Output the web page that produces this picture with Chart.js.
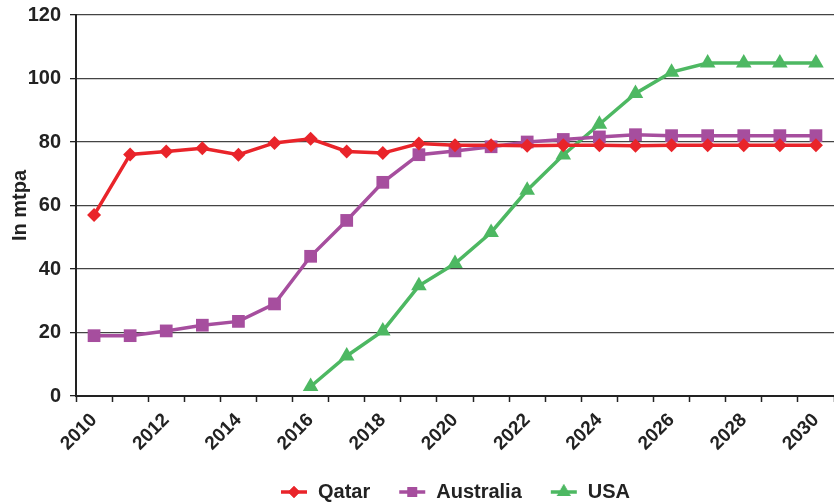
<!DOCTYPE html>
<html>
<head>
<meta charset="utf-8">
<script src="https://cdn.jsdelivr.net/npm/chart.js@4.4.0/dist/chart.umd.min.js"></script>
<style>
  html, body { margin: 0; padding: 0; background: #fff; }
  #wrap { width: 834px; height: 502px; overflow: hidden; }
</style>
</head>
<body>
<div id="wrap"><canvas id="chart" width="843" height="502"></canvas></div>
<script>
"use strict";

const years = ["2010", "2011", "2012", "2013", "2014", "2015", "2016", "2017", "2018", "2019", "2020",
  "2021", "2022", "2023", "2024", "2025", "2026", "2027", "2028", "2029", "2030"];

const qatar = [57, 76.1, 77, 78, 76, 79.7, 81, 77, 76.5, 79.5, 79, 79, 78.8, 79, 79, 78.8, 79, 79, 79, 79, 79];
const australia = [19, 19, 20.5, 22.3, 23.5, 29, 44, 55.3, 67.3, 76, 77.2, 78.5, 80, 80.8, 81.6, 82.3, 82, 82, 82, 82, 82];
const usa = [null, null, null, null, null, null, 3, 12.6, 20.5, 34.7, 41.7, 51.5, 64.8, 75.9, 85.6, 95.3, 102, 104.9, 104.9, 104.9, 104.9];

const yTicks = [0, 20, 40, 60, 80, 100, 120];

const red = "#e9242a";
const purple = "#a64e9e";
const green = "#4db862";
const font = "'Liberation Sans', Arial, sans-serif";

// little line + marker picture for the legend
function legendIcon(color, style, r) {
  const c = document.createElement("canvas");
  c.width = 28;
  c.height = 20;
  const ctx = c.getContext("2d");
  ctx.strokeStyle = color;
  ctx.fillStyle = color;
  ctx.lineWidth = 3.5;
  ctx.beginPath();
  ctx.moveTo(1, 10);
  ctx.lineTo(27, 10);
  ctx.stroke();
  Chart.helpers.drawPoint(ctx, { pointStyle: style, radius: r, borderWidth: 0 }, 14, 10);
  ctx.fill();
  return c;
}

const ctx = document.getElementById("chart");

const chart = new Chart(ctx, {
  type: "line",
  data: {
    labels: years,
    datasets: [
      {
        label: "Qatar",
        data: qatar,
        borderColor: red,
        backgroundColor: red,
        borderWidth: 3.5,
        pointStyle: "rectRot",
        pointRadius: 7,
        pointBorderWidth: 0,
      },
      {
        label: "Australia",
        data: australia,
        borderColor: purple,
        backgroundColor: purple,
        borderWidth: 3.5,
        pointStyle: "rect",
        pointRadius: 9,
        pointBorderWidth: 0,
      },
      {
        label: "USA",
        data: usa,
        borderColor: green,
        backgroundColor: green,
        borderWidth: 3.5,
        pointStyle: "triangle",
        pointRadius: 9,
        pointBorderWidth: 0,
      },
    ],
  },
  options: {
    responsive: false,
    animation: false,
    layout: { padding: { top: 15, right: 0, left: 8, bottom: -10 } },
    scales: {
      x: {
        offset: true,
        afterFit: function (axis) {
          axis.height = 58;
        },
        grid: {
          offset: true,
          drawOnChartArea: false,
          drawTicks: true,
          tickLength: 6,
          tickColor: "#222",
          tickWidth: 1.5,
        },
        border: { color: "#222", width: 2 },
        ticks: {
          autoSkip: false,
          maxRotation: 45,
          minRotation: 45,
          color: "#222",
          padding: 7,
          font: { family: font, size: 19, weight: "bold" },
          callback: function (value, index) {
            return index % 2 === 0 ? years[index] : "";
          },
        },
      },
      y: {
        min: 0,
        max: 120,
        afterBuildTicks: function (axis) {
          axis.ticks = yTicks.map(function (v) { return { value: v }; });
        },
        afterFit: function (axis) {
          axis.width = 68;
          axis.paddingTop = 0;
        },
        grid: {
          color: "#444",
          lineWidth: 1.3,
          tickLength: 6,
          tickColor: "#222",
        },
        border: { color: "#222", width: 2 },
        ticks: {
          color: "#222",
          padding: 9,
          font: { family: font, size: 20, weight: "bold" },
        },
        title: {
          display: true,
          text: "In mtpa",
          color: "#222",
          padding: { top: 0, bottom: 3 },
          font: { family: font, size: 20, weight: "bold" },
        },
      },
    },
    plugins: {
      tooltip: { enabled: false },
      legend: {
        position: "bottom",
        fullSize: false,
        labels: {
          color: "#222",
          usePointStyle: true,
          pointStyleWidth: 28,
          padding: 28,
          font: { family: font, size: 20, weight: "bold" },
          generateLabels: function (ch) {
            const icons = [
              legendIcon(red, "rectRot", 6),
              legendIcon(purple, "rect", 7),
              legendIcon(green, "triangle", 8),
            ];
            return ch.data.datasets.map(function (ds, i) {
              return {
                text: ds.label,
                pointStyle: icons[i],
                fillStyle: ds.borderColor,
                strokeStyle: ds.borderColor,
                lineWidth: 0,
                fontColor: "#222",
                datasetIndex: i,
                hidden: false,
              };
            });
          },
        },
      },
    },
  },
});
</script>
</body>
</html>
